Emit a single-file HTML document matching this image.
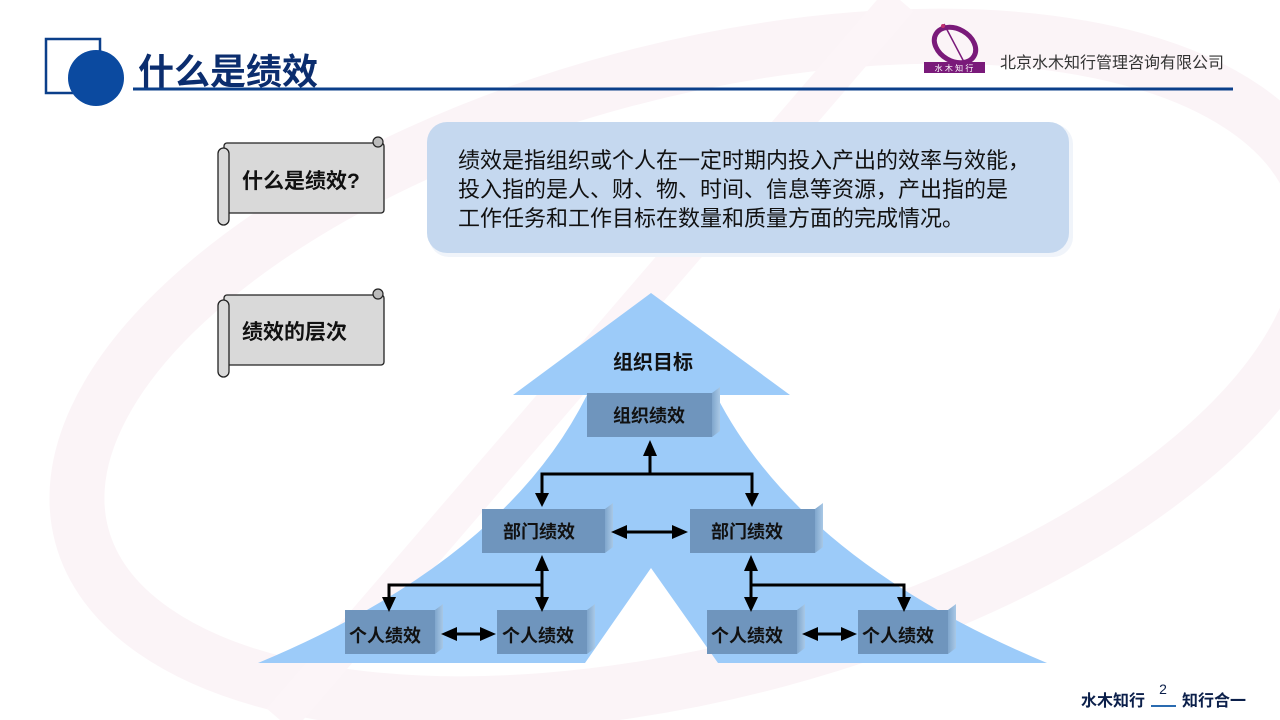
<!DOCTYPE html>
<html><head><meta charset="utf-8"><style>
html,body{margin:0;padding:0;width:1280px;height:720px;overflow:hidden;background:#fff}
svg{display:block;position:absolute;left:0;top:0}
text{font-family:"Liberation Sans","Noto Sans CJK SC",sans-serif}
</style></head><body>
<svg width="1280" height="720" viewBox="0 0 1280 720" xmlns="http://www.w3.org/2000/svg">
<defs>
<linearGradient id="side" x1="0" x2="1"><stop offset="0" stop-color="#7fa6cc"/><stop offset="1" stop-color="#a9c8e6"/></linearGradient>
</defs>
<!-- watermark -->
<ellipse cx="700" cy="370" rx="640" ry="300" fill="none" stroke="#fbf4f7" stroke-width="55" transform="rotate(-15 700 370)"/>
<line x1="900" y1="0" x2="280" y2="720" stroke="#fcf5f8" stroke-width="35"/>
<!-- header -->
<rect x="46" y="39" width="54" height="54" fill="#fff" stroke="#0b3f8a" stroke-width="2.5"/>
<circle cx="96" cy="78" r="28" fill="#0b4aa0"/>
<text x="138" y="84" font-size="36" font-weight="bold" fill="#0b2d6e">什么是绩效</text>
<line x1="133" y1="89" x2="1233" y2="89" stroke="#0b3f8a" stroke-width="3"/>
<!-- logo -->
<ellipse cx="955" cy="45" rx="22" ry="16" fill="none" stroke="#7a1a7a" stroke-width="5" transform="rotate(30 955 45)"/>
<line x1="944" y1="24" x2="964" y2="62" stroke="#7a1a7a" stroke-width="1.5"/>
<circle cx="943" cy="26" r="2" fill="#c03070"/>
<rect x="924" y="62" width="61" height="11" fill="#7a1a7a"/>
<text x="954" y="71" font-size="8" fill="#fff" text-anchor="middle">水 木 知 行</text>
<text x="1000" y="68" font-size="16" fill="#333">北京水木知行管理咨询有限公司</text>
<!-- scrolls -->
<g>
<rect x="224" y="143" width="160" height="70" fill="#d9d9d9" stroke="#222" stroke-width="1.3" rx="3"/>
<rect x="218" y="148" width="11" height="77" rx="5.5" fill="#d9d9d9" stroke="#222" stroke-width="1.3"/>
<circle cx="378" cy="142" r="5" fill="#bbb" stroke="#222" stroke-width="1.2"/>
<text x="242" y="188" font-size="21" font-weight="bold" fill="#111">什么是绩效?</text>
</g>
<g>
<rect x="224" y="295" width="160" height="70" fill="#d9d9d9" stroke="#222" stroke-width="1.3" rx="3"/>
<rect x="218" y="300" width="11" height="77" rx="5.5" fill="#d9d9d9" stroke="#222" stroke-width="1.3"/>
<circle cx="378" cy="294" r="5" fill="#bbb" stroke="#222" stroke-width="1.2"/>
<text x="242" y="339" font-size="21" font-weight="bold" fill="#111">绩效的层次</text>
</g>
<!-- text box -->
<rect x="429" y="124" width="644" height="133" rx="20" fill="#f0f4fa"/>
<rect x="427" y="122" width="642" height="131" rx="20" fill="#c5d8ef"/>
<g font-size="22" fill="#111">
<text x="458" y="168">绩效是指组织或个人在一定时期内投入产出的效率与效能，</text>
<text x="458" y="197">投入指的是人、财、物、时间、信息等资源，产出指的是</text>
<text x="458" y="226">工作任务和工作目标在数量和质量方面的完成情况。</text>
</g>
<!-- big arrow -->
<path d="M651,293 L790,395 L716,395 Q800,560 1047,663 L718,663 L651,568 L585,663 L258,663 Q505,560 587,395 L513,395 Z" fill="#9ccbf9"/>
<text x="653" y="369" font-size="20" font-weight="bold" fill="#111" text-anchor="middle">组织目标</text>
<!-- boxes -->
<g font-size="18" font-weight="bold" fill="#111">
<polygon points="712,393 720,387 720,431 712,437" fill="url(#side)"/><rect x="587" y="393" width="125" height="44" fill="#6f95bd"/><text x="649" y="422" text-anchor="middle">组织绩效</text>
<polygon points="605,509 613,503 613,547 605,553" fill="url(#side)"/><rect x="482" y="509" width="123" height="44" fill="#6f95bd"/><text x="539" y="538" text-anchor="middle">部门绩效</text>
<polygon points="815,509 823,503 823,547 815,553" fill="url(#side)"/><rect x="690" y="509" width="125" height="44" fill="#6f95bd"/><text x="747" y="538" text-anchor="middle">部门绩效</text>
<polygon points="435,610 443,604 443,648 435,654" fill="url(#side)"/><rect x="345" y="610" width="90" height="44" fill="#6f95bd"/><text x="385" y="642" text-anchor="middle">个人绩效</text>
<polygon points="587,610 595,604 595,648 587,654" fill="url(#side)"/><rect x="497" y="610" width="90" height="44" fill="#6f95bd"/><text x="538" y="642" text-anchor="middle">个人绩效</text>
<polygon points="797,610 805,604 805,648 797,654" fill="url(#side)"/><rect x="707" y="610" width="90" height="44" fill="#6f95bd"/><text x="747" y="642" text-anchor="middle">个人绩效</text>
<polygon points="948,610 956,604 956,648 948,654" fill="url(#side)"/><rect x="858" y="610" width="90" height="44" fill="#6f95bd"/><text x="898" y="642" text-anchor="middle">个人绩效</text>
</g>
<!-- connectors -->
<g stroke="#000" stroke-width="3" fill="none">
<polyline points="542,495 542,474 752,474 752,495"/>
<line x1="650" y1="474" x2="650" y2="455"/>
<line x1="625" y1="532" x2="672" y2="532"/>
<line x1="542" y1="570" x2="542" y2="598"/>
<polyline points="542,585 389,585 389,598"/>
<line x1="751" y1="570" x2="751" y2="598"/>
<polyline points="751,585 904,585 904,598"/>
<line x1="455" y1="634" x2="482" y2="634"/>
<line x1="815" y1="634" x2="845" y2="634"/>
</g>
<g fill="#000">
<polygon points="650,440 643,456 657,456"/>
<polygon points="542,507 535,493 549,493"/>
<polygon points="752,507 745,493 759,493"/>
<polygon points="611,532 627,525 627,539"/>
<polygon points="688,532 672,525 672,539"/>
<polygon points="542,555 535,571 549,571"/>
<polygon points="542,612 535,597 549,597"/>
<polygon points="389,612 382,597 396,597"/>
<polygon points="751,555 744,571 758,571"/>
<polygon points="751,612 744,597 758,597"/>
<polygon points="904,612 897,597 911,597"/>
<polygon points="441,634 457,627 457,641"/>
<polygon points="496,634 480,627 480,641"/>
<polygon points="802,634 818,627 818,641"/>
<polygon points="857,634 841,627 841,641"/>
</g>
<!-- footer -->
<text x="1081" y="706" font-size="16" font-weight="bold" fill="#0b1f4a">水木知行</text>
<line x1="1151" y1="706" x2="1176" y2="706" stroke="#2a6bb0" stroke-width="2"/>
<text x="1163" y="694" font-size="14" fill="#0b1f4a" text-anchor="middle" font-family="Liberation Serif">2</text>
<text x="1182" y="706" font-size="16" font-weight="bold" fill="#0b1f4a">知行合一</text>
</svg>
</body></html>
